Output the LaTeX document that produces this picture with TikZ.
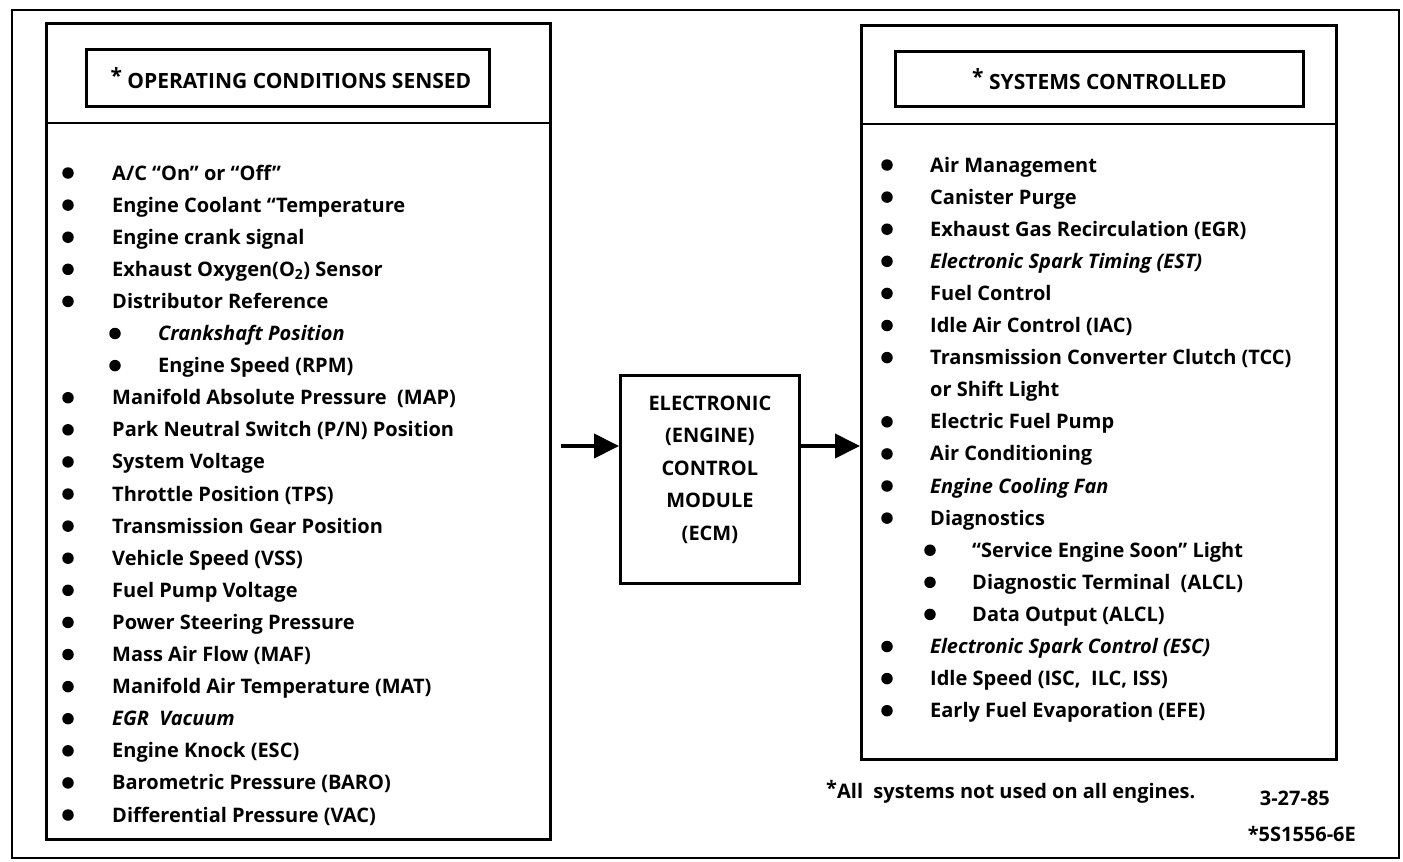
\documentclass[tikz,border=0pt]{standalone}
\usepackage{fontspec}
\setmainfont{Open Sans}
\usetikzlibrary{arrows.meta}

% one row of the sensed list: name, indent level, row number, text
\newcommand\sensedrow[4]{%
  \node[dot] (#1b) at ({68+47*#2},{173+32.1*(#3-1)}) {};
  \node[item] (#1) at ({112+46*#2},{180+32.1*(#3-1)}) {#4};}
% one row of the controlled list: name, indent level, row number, text
\newcommand\ctrlrow[4]{%
  \node[dot] (#1b) at ({887+43*#2},{165+32.1*(#3-1)}) {};
  \node[item] (#1) at ({930+42*#2},{172+32.1*(#3-1)}) {#4};}

\begin{document}
\begin{tikzpicture}[x=1pt,y=-1pt,
  heavy/.style={line width=2.8pt},
  panel/.style={draw, heavy, anchor=north west, inner sep=0pt},
  big/.style={font=\fontsize{20}{22}\selectfont\bfseries},
  item/.style={big, anchor=base west, inner sep=0pt},
  dot/.style={circle, fill, inner sep=0pt, minimum size=11.5pt},
  hdr/.style={font=\fontsize{21}{24}\selectfont\bfseries, inner sep=0pt},
  arr/.style={line width=4pt, -{Triangle[length=25pt,width=24pt]}}]
\useasboundingbox (0,0) rectangle (1403,862);

% outer frame
\draw[line width=2.4pt] (12,10) rectangle (1399,858);

% input panel
\node[panel, minimum width=504pt, minimum height=816pt] (L) at (45,22) {};
\node[panel, minimum width=403pt, minimum height=57pt] (Lh) at (85,48) {};
\node[hdr] (Lht) at ([xshift=3pt]Lh.center) {\raisebox{5pt}{*}\ OPERATING CONDITIONS SENSED};
\draw[heavy] (L.west |- 0,123) -- (L.east |- 0,123);

% output panel
\node[panel, minimum width=475pt, minimum height=734pt] (R) at (860,24) {};
\node[panel, minimum width=408pt, minimum height=55pt] (Rh) at (894,50) {};
\node[hdr] (Rht) at (Rh.center) {\raisebox{5pt}{*}\ SYSTEMS CONTROLLED};
\draw[heavy] (R.west |- 0,124) -- (R.east |- 0,124);

% control module
\node[panel, minimum width=179pt, minimum height=208pt] (ecm) at (619,374) {};
\node[hdr, align=center, font=\fontsize{20}{32.5}\selectfont\bfseries]
  (ecmt) at ([yshift=10pt]ecm.center)
  {ELECTRONIC\\(ENGINE)\\CONTROL\\MODULE\\(ECM)};

% signal flow
\coordinate (in) at ([xshift=9pt]L.east |- 0,446);
\draw[arr] (in) -- (in -| ecm.west);
\draw[arr] (ecm.east |- in) -- (R.west |- in);

% sensed conditions
\sensedrow{s1}{0}{1}{A/C “On” or “Off”}
\sensedrow{s2}{0}{2}{Engine Coolant “Temperature}
\sensedrow{s3}{0}{3}{Engine crank signal}
\sensedrow{s4}{0}{4}{Exhaust Oxygen(O\textsubscript{2}) Sensor}
\sensedrow{s5}{0}{5}{Distributor Reference}
\sensedrow{s6}{1}{6}{\itshape Crankshaft Position}
\sensedrow{s7}{1}{7}{Engine Speed (RPM)}
\sensedrow{s8}{0}{8}{Manifold Absolute Pressure\ \ (MAP)}
\sensedrow{s9}{0}{9}{Park Neutral Switch (P/N) Position}
\sensedrow{s10}{0}{10}{System Voltage}
\sensedrow{s11}{0}{11}{Throttle Position (TPS)}
\sensedrow{s12}{0}{12}{Transmission Gear Position}
\sensedrow{s13}{0}{13}{Vehicle Speed (VSS)}
\sensedrow{s14}{0}{14}{Fuel Pump Voltage}
\sensedrow{s15}{0}{15}{Power Steering Pressure}
\sensedrow{s16}{0}{16}{Mass Air Flow (MAF)}
\sensedrow{s17}{0}{17}{Manifold Air Temperature (MAT)}
\sensedrow{s18}{0}{18}{\itshape EGR\ \ Vacuum}
\sensedrow{s19}{0}{19}{Engine Knock (ESC)}
\sensedrow{s20}{0}{20}{Barometric Pressure (BARO)}
\sensedrow{s21}{0}{21}{Differential Pressure (VAC)}

% controlled systems
\ctrlrow{c1}{0}{1}{Air Management}
\ctrlrow{c2}{0}{2}{Canister Purge}
\ctrlrow{c3}{0}{3}{Exhaust Gas Recirculation (EGR)}
\ctrlrow{c4}{0}{4}{\itshape Electronic Spark Timing (EST)}
\ctrlrow{c5}{0}{5}{Fuel Control}
\ctrlrow{c6}{0}{6}{Idle Air Control (IAC)}
\ctrlrow{c7}{0}{7}{Transmission Converter Clutch (TCC)}
\node[item] (c7b) at (930,{172+32.1*7}) {or Shift Light};
\ctrlrow{c9}{0}{9}{Electric Fuel Pump}
\ctrlrow{c10}{0}{10}{Air Conditioning}
\ctrlrow{c11}{0}{11}{\itshape Engine Cooling Fan}
\ctrlrow{c12}{0}{12}{Diagnostics}
\ctrlrow{c13}{1}{13}{“Service Engine Soon” Light}
\ctrlrow{c14}{1}{14}{Diagnostic Terminal\ \ (ALCL)}
\ctrlrow{c15}{1}{15}{Data Output (ALCL)}
\ctrlrow{c16}{0}{16}{\itshape Electronic Spark Control (ESC)}
\ctrlrow{c17}{0}{17}{Idle Speed (ISC,\ \ ILC, ISS)}
\ctrlrow{c18}{0}{18}{Early Fuel Evaporation (EFE)}

% notes
\node[item] (note) at (826,798)
  {\raisebox{3pt}{*}All\ \ systems not used on all engines.};
\node[item, anchor=base east] (date) at (1330,805) {3-27-85};
\node[item, anchor=base east] (fig) at (1356,841) {*5S1556-6E};
\end{tikzpicture}
\end{document}
